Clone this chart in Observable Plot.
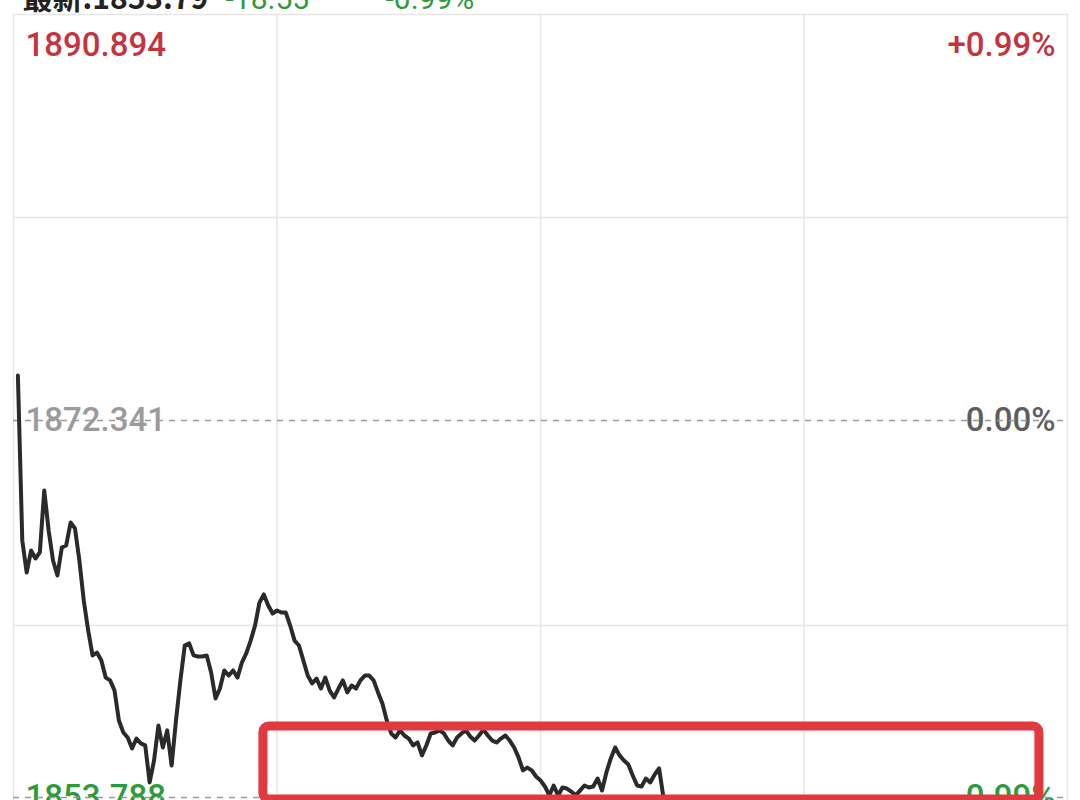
<!DOCTYPE html>
<html>
<head>
<meta charset="utf-8">
<script src="https://cdn.jsdelivr.net/npm/d3@7"></script>
<script src="https://cdn.jsdelivr.net/npm/@observablehq/plot@0.6"></script>
<style>
  html, body { margin: 0; padding: 0; background: #fff; }
  #chart { width: 1080px; height: 800px; overflow: hidden; }
</style>
</head>
<body>
<div id="chart"></div>
<script>
// Reference levels (previous close, upper & lower bounds of the day's range)
const prevClose = 1872.341;
const upperBound = 1890.894;
const lowerBound = 1853.788;
const gridPrices = [1881.62, 1862.25];
const sessionMinutes = [0, 240];
const timeGridMinutes = [0, 60, 120, 180, 240];

// Header (last price, change, change %)
const headerLast = "最新:1853.79";
const headerChange = "-18.55";
const headerPct = "-0.99%";

// Axis labels
const leftLabels = ["1890.894", "1872.341", "1853.788"];
const rightLabels = ["+0.99%", "0.00%", "-0.99%"];

// Intraday prices, one per minute starting at minute 1 (9:31)
const prices = [
  1874.40, 1866.44, 1864.86, 1865.94, 1865.55, 1865.85, 1868.90, 1866.93, 1865.45, 1864.71,
  1866.09, 1866.19, 1867.32, 1867.03, 1865.45, 1863.48, 1862.01, 1860.78, 1860.92, 1860.53,
  1859.69, 1859.55, 1859.05, 1857.58, 1856.99, 1856.74, 1856.20, 1856.69, 1856.45, 1856.35,
  1854.53, 1855.61, 1857.33, 1856.25, 1857.09, 1855.36, 1857.58, 1859.55, 1861.27, 1861.37,
  1860.78, 1860.73, 1860.73, 1860.78, 1859.94, 1858.66, 1859.15, 1860.04, 1859.79, 1860.04,
  1859.69, 1860.43, 1860.88, 1861.51, 1862.25, 1863.38, 1863.78, 1863.24, 1862.84, 1862.99,
  1862.89, 1862.89, 1862.25, 1861.51, 1861.27, 1860.53, 1859.79, 1859.40, 1859.64, 1859.15,
  1859.69, 1859.05, 1858.71, 1859.15, 1859.55, 1858.96, 1859.30, 1859.15, 1859.55, 1859.79,
  1859.79, 1859.55, 1858.96, 1858.41, 1857.58, 1856.94, 1856.74, 1857.09, 1856.84, 1856.69,
  1856.35, 1856.50, 1855.86, 1856.35, 1856.94, 1856.99, 1857.09, 1856.94, 1856.59, 1856.35,
  1856.74, 1856.94, 1857.09, 1856.79, 1856.59, 1856.84, 1857.13, 1856.84, 1856.59, 1856.50,
  1856.69, 1856.84, 1856.59, 1856.25, 1855.76, 1855.12, 1855.26, 1855.12, 1854.82, 1854.63,
  1854.33, 1853.89, 1854.38, 1853.89, 1854.28, 1854.23, 1854.08, 1853.89, 1854.13, 1854.38,
  1854.28, 1854.33, 1854.72, 1854.13, 1855.02, 1855.71, 1856.25, 1855.86, 1855.61, 1855.41,
  1854.87, 1854.38, 1854.33, 1854.72, 1854.53, 1854.92, 1855.22, 1853.79
];

// Highlight box annotation (minutes, prices)
const boxMinutes = [56.9, 233.6];
const boxPrices = [1857.28, 1853.69];

const series = prices.map((p, i) => ({minute: i + 1, price: p}));

// The app stretches the upper and lower halves of the price band differently:
// map price onto a band coordinate (-1 .. 0 .. 1) around the previous close.
const half = upperBound - prevClose;
const band = p => (p - prevClose) / half;
const upperPx = 406, lowerPx = 377;
const yTransform = p => { const b = band(p); return b >= 0 ? b * upperPx : b * lowerPx; };

const red = "#c4343e";
const green = "#2f9a3c";
const numFont = "Roboto, 'Noto Sans', sans-serif";

const chart = Plot.plot({
  width: 1080,
  height: 800,
  marginLeft: 13,
  marginRight: 13,
  marginTop: 14,
  marginBottom: 3,
  style: {background: "#fff"},
  x: {domain: sessionMinutes, range: [13, 1067], axis: null},
  y: {type: "linear", transform: yTransform, domain: [-lowerPx, upperPx], range: [797, 14], axis: null},
  marks: [
    // header, partly above the visible page
    Plot.text([headerLast], {frameAnchor: "top-left", dx: 9, dy: -27, text: d => d, fontSize: 30, fontWeight: 600, fill: "#222", textAnchor: "start", fontFamily: "'Noto Sans CJK SC', sans-serif"}),
    Plot.text([headerChange], {frameAnchor: "top-left", dx: 212, dy: -27, text: d => d, fontSize: 30, fill: green, textAnchor: "start", fontFamily: numFont}),
    Plot.text([headerPct], {frameAnchor: "top-left", dx: 372, dy: -27, text: d => d, fontSize: 30, fill: green, textAnchor: "start", fontFamily: numFont}),
    // grid
    Plot.ruleX(timeGridMinutes, {x: d => d, y1: upperBound, y2: 1852, stroke: "#e6e6e6", strokeWidth: 1.5}),
    Plot.ruleY([upperBound, ...gridPrices], {y: d => d, stroke: "#e6e6e6", strokeWidth: 1.5}),
    // labels
    Plot.text([leftLabels[0]], {frameAnchor: "left", y: upperBound, dx: 12, dy: 31, text: d => d, fill: red, fontSize: 33, fontWeight: 500, fontFamily: numFont, textAnchor: "start"}),
    Plot.text([rightLabels[0]], {frameAnchor: "right", y: upperBound, dx: -12, dy: 31, text: d => d, fill: red, fontSize: 33, fontWeight: 500, fontFamily: numFont, textAnchor: "end"}),
    Plot.text([leftLabels[1]], {frameAnchor: "left", y: prevClose, dx: 12, text: d => d, fill: "#9b9b9b", fontSize: 33, fontWeight: 500, fontFamily: numFont, textAnchor: "start"}),
    Plot.text([rightLabels[1]], {frameAnchor: "right", y: prevClose, dx: -12, text: d => d, fill: "#5e5e5e", fontSize: 33, fontWeight: 500, fontFamily: numFont, textAnchor: "end"}),
    Plot.text([leftLabels[2]], {frameAnchor: "left", y: lowerBound, dx: 12, text: d => d, fill: green, fontSize: 33, fontWeight: 500, fontFamily: numFont, textAnchor: "start"}),
    Plot.text([rightLabels[2]], {frameAnchor: "right", y: lowerBound, dx: -12, text: d => d, fill: green, fontSize: 33, fontWeight: 500, fontFamily: numFont, textAnchor: "end"}),
    // dashed reference lines
    Plot.ruleY([prevClose, lowerBound], {y: d => d, stroke: "#9a9a9a", strokeWidth: 1.6, strokeDasharray: "6,6"}),
    // price line
    Plot.line(series, {x: "minute", y: "price", stroke: "#2a2a2a", strokeWidth: 4, strokeLinejoin: "round", strokeLinecap: "round"}),
    // highlight box
    Plot.rect([{x1: boxMinutes[0], x2: boxMinutes[1], y1: boxPrices[0], y2: boxPrices[1]}],
      {x1: "x1", x2: "x2", y1: "y1", y2: "y2", fill: "none", stroke: "#e0393f", strokeWidth: 9, rx: 6})
  ]
});
document.getElementById("chart").appendChild(chart);
</script>
</body>
</html>
